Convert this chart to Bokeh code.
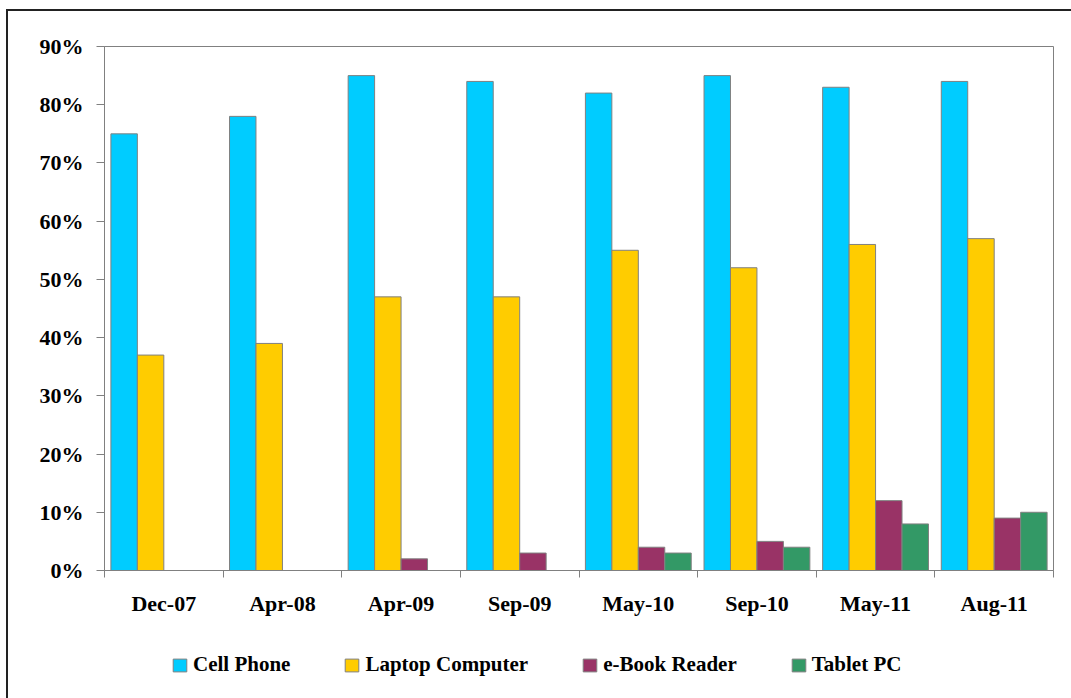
from bokeh.plotting import figure
from bokeh.layouts import column
from bokeh.models import (ColumnDataSource, Range1d, FixedTicker, PrintfTickFormatter,
                          Legend, LegendItem)
from bokeh.transform import dodge
from bokeh.core.properties import value
from bokeh.embed import file_html
from bokeh.resources import INLINE

categories = ["Dec-07", "Apr-08", "Apr-09", "Sep-09", "May-10", "Sep-10", "May-11", "Aug-11"]
cell_phone = [75, 78, 85, 84, 82, 85, 83, 84]
laptop = [37, 39, 47, 47, 55, 52, 56, 57]
ebook = [0, 0, 2, 3, 4, 5, 12, 9]
tablet = [0, 0, 0, 0, 3, 4, 8, 10]
series_names = ["Cell Phone", "Laptop Computer", "e-Book Reader", "Tablet PC"]
colors = ["#00CCFF", "#FFCC00", "#993366", "#339966"]
y_ticks = [0, 10, 20, 30, 40, 50, 60, 70, 80, 90]

FONT = "Liberation Serif"
GRAY = "#808080"
BORDER = "#222"

xc = [i + 0.5 for i in range(len(categories))]
source = ColumnDataSource(dict(x=xc, cell=cell_phone, laptop=laptop, ebook=ebook, tablet=tablet))

p = figure(width=1071, height=630, output_backend="svg", toolbar_location=None,
           x_range=Range1d(0, len(categories)), y_range=Range1d(0, 90),
           min_border_left=104, min_border_right=18, min_border_top=46, min_border_bottom=60)
p.background_fill_color = "white"
p.border_fill_alpha = 0
p.styles = {
    "background": f"linear-gradient({BORDER},{BORDER}) 6px 9px / 2px 100% no-repeat, "
                  f"linear-gradient({BORDER},{BORDER}) 6px 9px / 100% 2px no-repeat, white"
}
p.outline_line_color = GRAY
p.outline_line_width = 1
p.grid.visible = False

w = 0.223
offsets = [-1.5 * w, -0.5 * w, 0.5 * w, 1.5 * w]
fields = ["cell", "laptop", "ebook", "tablet"]
for f, off, c in zip(fields, offsets, colors):
    p.vbar(x=dodge("x", off), top=f, width=w, bottom=0, source=source,
           fill_color=c, line_color=GRAY, line_width=1)

# y axis
yax = p.yaxis[0]
yax.ticker = FixedTicker(ticks=y_ticks)
yax.formatter = PrintfTickFormatter(format="%d%%")
yax.axis_line_color = GRAY
yax.major_tick_line_color = GRAY
yax.major_tick_out = 8
yax.major_tick_in = 0
yax.minor_tick_line_color = None
yax.major_label_text_font = FONT
yax.major_label_text_font_style = "bold"
yax.major_label_text_font_size = "22px"
yax.major_label_text_color = "black"
yax.major_label_standoff = 13

# x axis
xax = p.xaxis[0]
xax.ticker = FixedTicker(ticks=xc, minor_ticks=list(range(len(categories) + 1)))
xax.major_label_overrides = {x: c for x, c in zip(xc, categories)}
xax.axis_line_color = GRAY
xax.major_tick_line_color = None
xax.minor_tick_line_color = GRAY
xax.minor_tick_out = 7
xax.minor_tick_in = 0
xax.major_label_text_font = FONT
xax.major_label_text_font_style = "bold"
xax.major_label_text_font_size = "22px"
xax.major_label_text_color = "black"
xax.major_label_standoff = 13

# legend strip below the chart (its frame is aligned with the chart's frame)
lf = figure(width=1071, height=68, output_backend="svg", toolbar_location=None,
            x_range=Range1d(0, 1), y_range=Range1d(0, 1),
            x_axis_location=None, y_axis_location=None,
            min_border_left=0, min_border_right=0, min_border_top=0, min_border_bottom=0)
lf.grid.visible = False
lf.outline_line_color = None
lf.background_fill_alpha = 0
lf.border_fill_alpha = 0
lf.styles = {
    "background": f"linear-gradient({BORDER},{BORDER}) 6px 0px / 2px 100% no-repeat, white"
}
items = []
for n, c in zip(series_names, colors):
    # legend swatch renderer, kept fully outside the visible ranges
    r = lf.vbar(x=[50], top=[-50], bottom=[-60], width=0.1,
                fill_color=c, line_color=GRAY, line_width=1)
    items.append(LegendItem(label=value(n), renderers=[r]))
legend = Legend(items=items, location=(67, 21), orientation="horizontal",
                padding=0, margin=0, spacing=53,
                glyph_width=17, glyph_height=16, label_height=16,
                label_standoff=5, border_line_color=None, background_fill_alpha=0,
                label_text_font=FONT, label_text_font_style="bold",
                label_text_font_size="21px", label_text_color="black")
lf.add_layout(legend, "center")

layout = column(p, lf, spacing=0)
open("out.html", "w").write(file_html(layout, INLINE))
